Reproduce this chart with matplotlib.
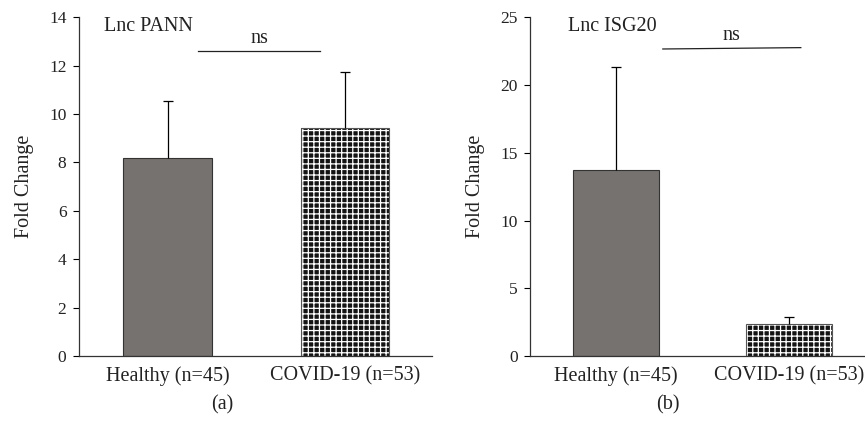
import matplotlib
matplotlib.use('Agg')
import matplotlib.pyplot as plt

# data
groups = ['Healthy (n=45)', 'COVID-19 (n=53)']
pann_mean = [8.2, 9.4]
pann_err = [2.35, 2.35]
isg20_mean = [13.7, 2.4]
isg20_err = [7.6, 0.5]

plt.rcParams['font.family'] = ['Liberation Serif', 'DejaVu Serif']
plt.rcParams['hatch.linewidth'] = 0.9

gray = '#767270'
dark = '#141414'
txt = '#222222'
fs = 14.5

fig = plt.figure(figsize=(8.65, 4.28), dpi=100)
ax1 = fig.add_axes([79 / 865, 0.168, 353 / 865, 0.792])
ax2 = fig.add_axes([530 / 865, 0.168, 345 / 865, 0.792])


def draw(ax, means, errs, ymax, step, title, title_x, ns_y, ns_x, letter, letter_x, xmax):
    x = [0, 1]
    ax.bar(x[0], means[0], width=0.5, color=gray, edgecolor='#333333', linewidth=0.8)
    # hatch takes the edge colour in mpl 3.10, so hatch in white and outline separately
    ax.bar(x[1], means[1], width=0.5, color=dark, edgecolor='white',
           linewidth=0, hatch='+++')
    ax.bar(x[1], means[1], width=0.5, fill=False, edgecolor='#555555', linewidth=0.8)
    eb = ax.errorbar(x, means, yerr=[[0, 0], errs], fmt='none', ecolor='black',
                     elinewidth=0.9, capsize=3.5, capthick=0.9)
    eb[1][0].set_visible(False)  # no cap on the lower end
    ax.set_xlim(-0.5, xmax)
    ax.set_ylim(0, ymax)
    ax.set_yticks(range(0, ymax + 1, step))
    ax.set_xticks(x)
    ax.set_xticklabels(groups, fontsize=fs, color=txt)
    ax.tick_params(axis='x', length=0, pad=7)
    ax.tick_params(axis='y', length=4, width=0.8, labelsize=12.5,
                   labelcolor=txt, direction='out', pad=5)
    for s in ['top', 'right']:
        ax.spines[s].set_visible(False)
    for s in ['left', 'bottom']:
        ax.spines[s].set_linewidth(0.9)
        ax.spines[s].set_color('#333333')
    ax.set_ylabel('Fold Change', fontsize=fs, color=txt, labelpad=11)
    ax.text(title_x, ymax * 1.0, title, fontsize=fs, va='top', ha='left', color=txt)
    ax.plot(ns_x, ns_y, color=txt, linewidth=0.9)
    ax.text(sum(ns_x) / 2, max(ns_y) + ymax * 0.008, 'ns', fontsize=fs,
            ha='center', va='bottom', color=txt)
    ax.text(letter_x, -ymax * 0.115, letter, fontsize=fs,
            ha='center', va='top', color=txt)


draw(ax1, pann_mean, pann_err, 14, 2, 'Lnc PANN', -0.36, [12.6, 12.6], [0.17, 0.86],
     '(a)', 0.31, 1.49)
draw(ax2, isg20_mean, isg20_err, 25, 5, 'Lnc ISG20', -0.28, [22.65, 22.75], [0.27, 1.07],
     '(b)', 0.3, 1.5)

fig.savefig('out.png', dpi=100)
